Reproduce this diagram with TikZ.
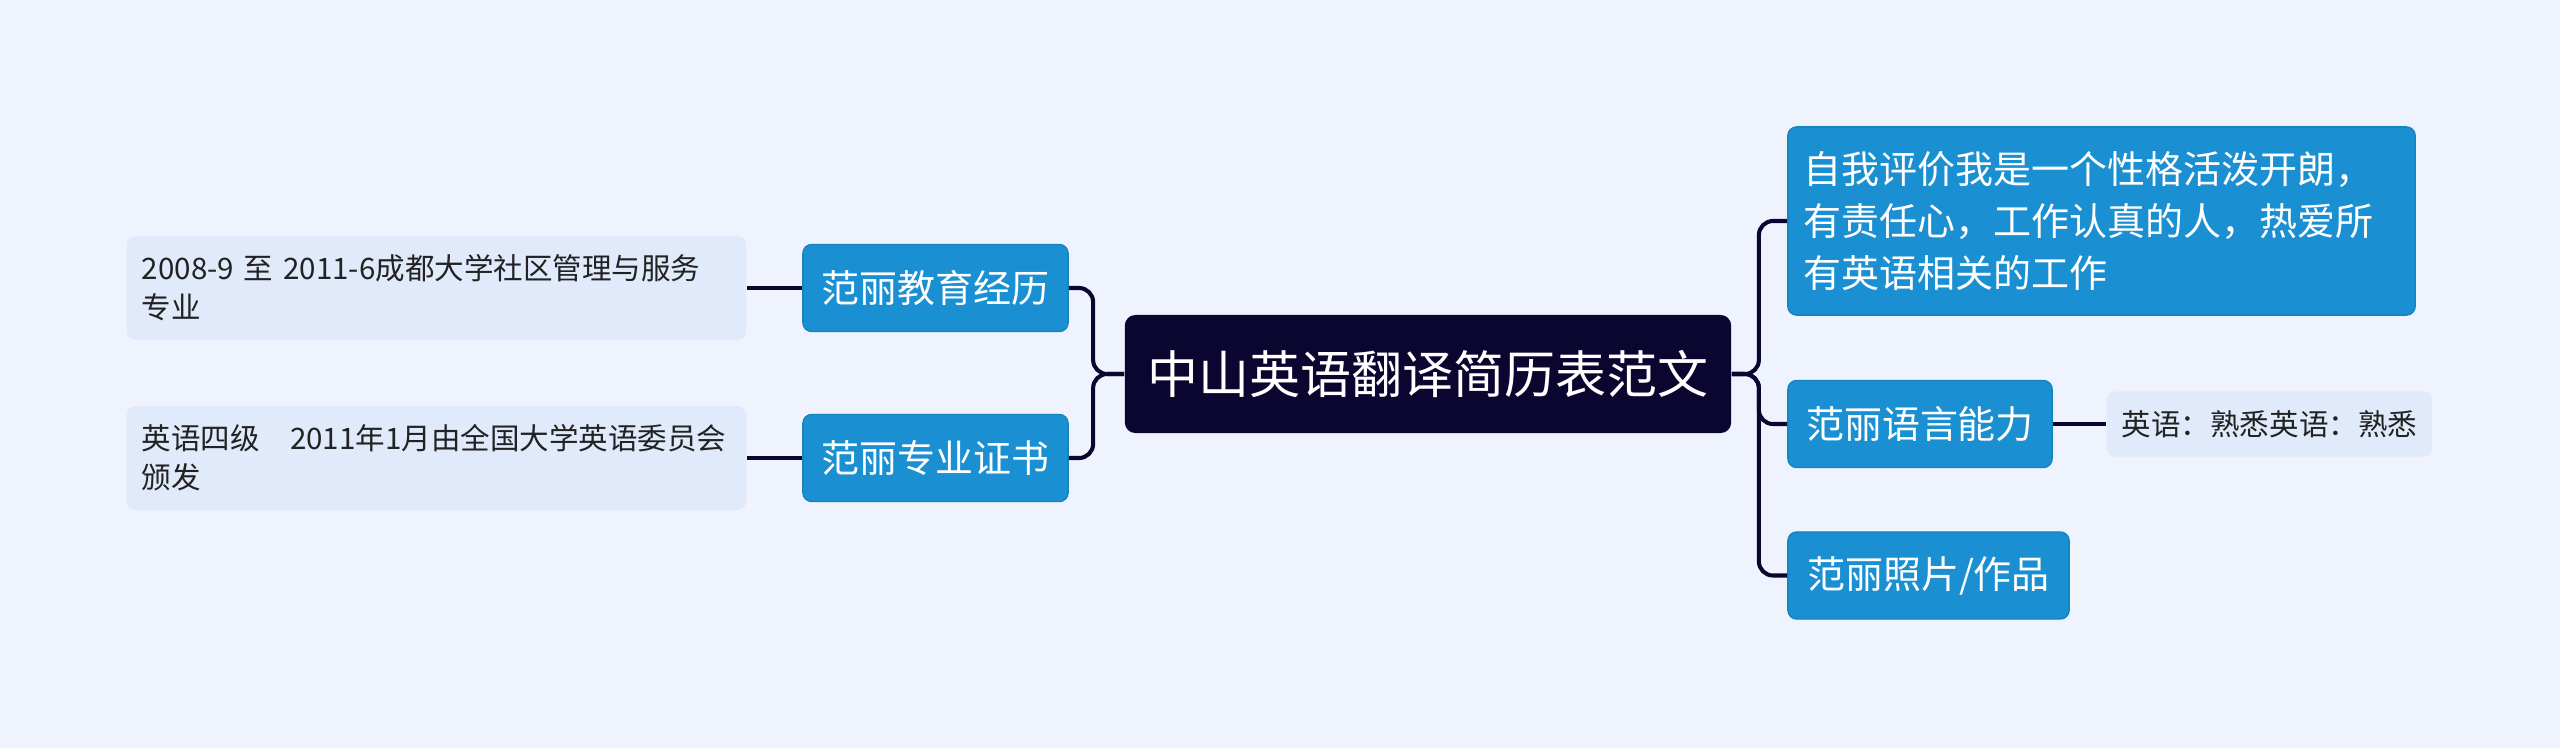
\documentclass[tikz,border=0pt]{standalone}
\usepackage{fontspec}
\setmainfont{Noto Sans CJK SC}
\usepackage{tikz}
\usetikzlibrary{positioning,calc}
\definecolor{paper}{HTML}{EEF3FE}
\definecolor{ink}{HTML}{0B0630}
\definecolor{sky}{HTML}{1A90D2}
\definecolor{skyline}{HTML}{1682C0}
\definecolor{pale}{HTML}{E1EAFB}
\definecolor{txt}{HTML}{222222}

\tikzset{
  root/.style={fill=ink,rounded corners=3pt,minimum width=6.06cm,minimum height=1.18cm,text=white,font=\fontsize{14.5}{17}\selectfont},
  topic/.style={draw=skyline,fill=sky,rounded corners=2.5pt,inner xsep=0.16cm,minimum height=0.87cm,text=white,align=left,font=\fontsize{10.8}{14.8}\selectfont},
  leaf/.style={fill=pale,rounded corners=2.5pt,inner xsep=0.15cm,text=txt,align=left,font=\fontsize{8.4}{11.1}\selectfont},
  link/.style={draw=ink,line width=1.15pt,rounded corners=4pt}
}

\begin{document}
\begin{tikzpicture}[x=0.01cm,y=-0.01cm]
\fill[paper] (0,0) rectangle (2560,748);
\useasboundingbox (0,0) rectangle (2560,748);
\node[root] (main) at (1428,374) {中山英语翻译简历表范文};
% left side
\node[topic,minimum width=2.65cm] (edu) at (935.5,288) {范丽教育经历};
\node[topic,minimum width=2.65cm] (cert) at (935.5,458) {范丽专业证书};
\node[leaf,text width=5.89cm,minimum height=1.04cm] (eduleaf) at (436.5,288) {2008-9 至 2011-6成都大学社区管理与服务\\专业};
\node[leaf,text width=5.89cm,minimum height=1.04cm] (certleaf) at (436.5,458) {英语四级\hspace{0.3cm}2011年1月由全国大学英语委员会\\颁发};
% right side
\node[topic,text width=5.95cm,minimum height=1.88cm] (self) at (2101.5,221) {自我评价我是一个性格活泼开朗，\\有责任心，工作认真的人，热爱所\\有英语相关的工作};
\node[topic,minimum width=2.64cm] (lang) at (1920,424) {范丽语言能力};
\node[topic,minimum width=2.81cm] (photo) at (1928.5,575.5) {范丽照片/作品};
\node[leaf,minimum width=3.23cm,minimum height=0.65cm] (langleaf) at (2269.5,424) {英语：熟悉英语：熟悉};

\draw[link] (main.west) -- ++(-31,0) |- (edu.east);
\draw[link] (main.west) -- ++(-31,0) |- (cert.east);
\draw[link] (main.east) -- ++(27,0) |- (self.west);
\draw[link] (main.east) -- ++(27,0) |- (lang.west);
\draw[link] (main.east) -- ++(27,0) |- (photo.west);
\draw[link] (edu.west) -- (eduleaf.east);
\draw[link] (cert.west) -- (certleaf.east);
\draw[link] (lang.east) -- (langleaf.west);
\end{tikzpicture}
\end{document}
